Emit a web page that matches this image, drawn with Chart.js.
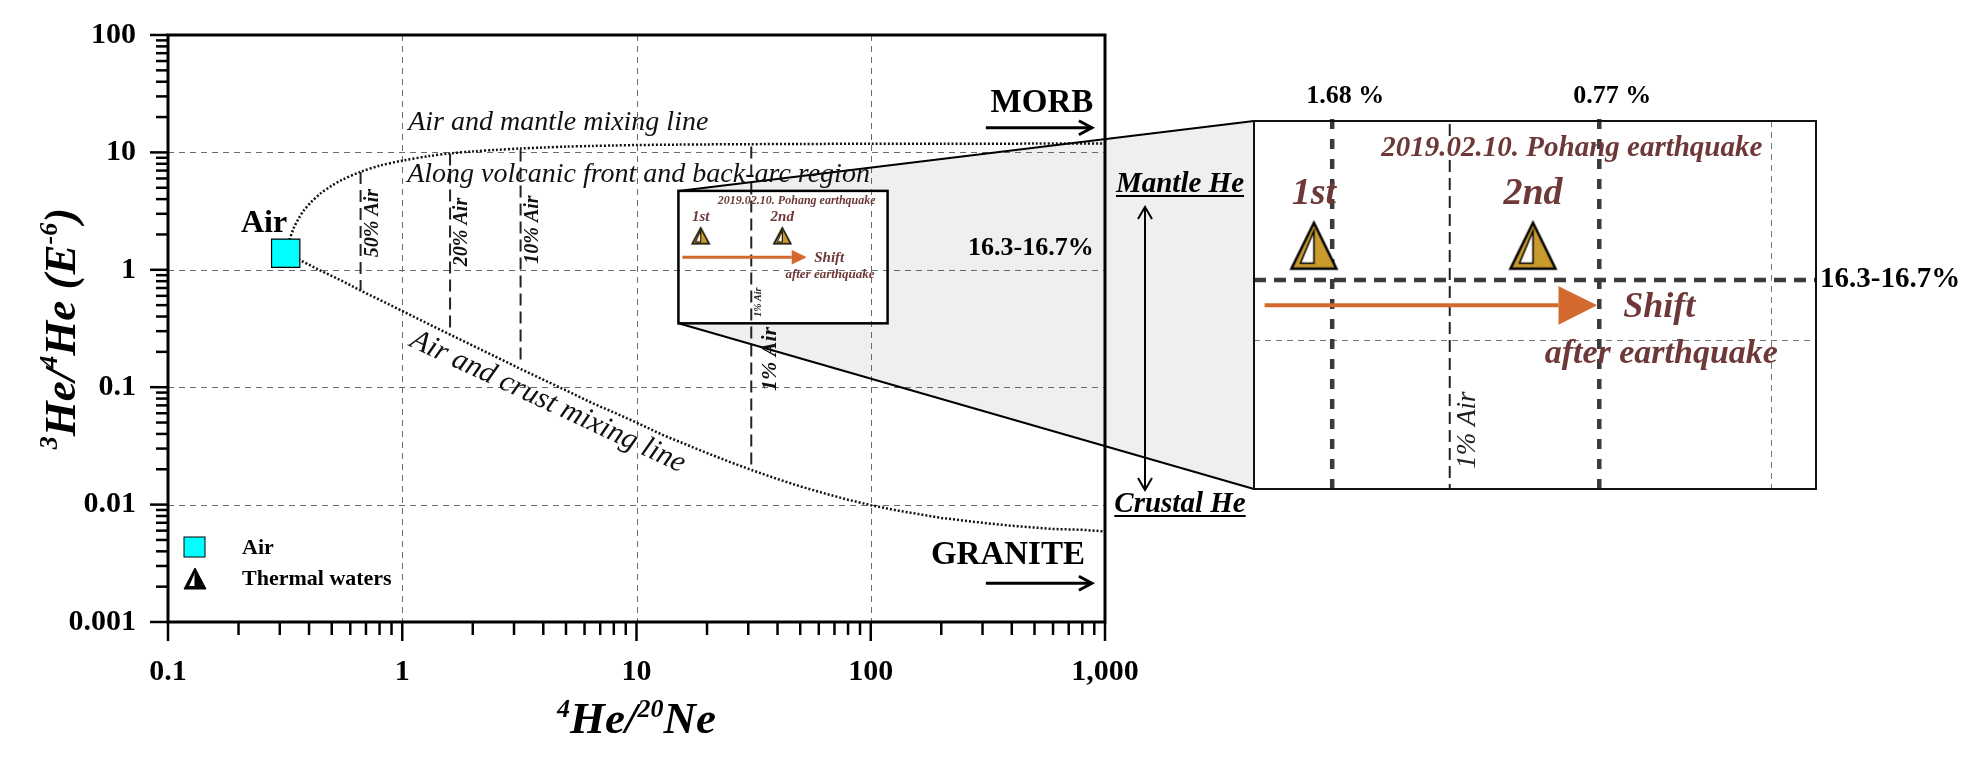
<!DOCTYPE html>
<html>
<head>
<meta charset="utf-8">
<title>3He/4He vs 4He/20Ne</title>
<script src="https://cdn.jsdelivr.net/npm/chart.js@4.4.1/dist/chart.umd.min.js"></script>
<style>
  html, body { margin: 0; padding: 0; background: #fff; }
  #wrap { position: relative; width: 1978px; height: 760px; }
  #wrap canvas { position: absolute; left: 0; top: 0; }
</style>
</head>
<body>
<div id="wrap">
  <canvas id="mainChart" width="1978" height="760"></canvas>
  <canvas id="zoomChart" width="1978" height="760"></canvas>
</div>
<script>
// ============================================================
// 3He/4He vs 4He/20Ne mixing diagram + zoomed panel
// ============================================================

// --- data -----------------------------------------------------
const X_TICK_VALUES = [0.1, 1, 10, 100, 1000];
const X_TICK_LABELS = ['0.1', '1', '10', '100', '1,000'];
const Y_TICK_VALUES = [0.001, 0.01, 0.1, 1, 10, 100];
const Y_TICK_LABELS = ['0.001', '0.01', '0.1', '1', '10', '100'];

// air - mantle mixing curve
const MANTLE_X = [0.33, 0.345, 0.36, 0.38, 0.41, 0.45, 0.5, 0.55, 0.66, 0.8, 1, 1.3, 1.6, 2, 2.5, 3.2, 4, 5, 6.5, 8, 10, 15, 20, 30, 50, 100, 200, 500, 1000];
const MANTLE_Y = [1.8, 2.3, 2.7, 3.2, 3.8, 4.5, 5.2, 5.8, 6.8, 7.7, 8.5, 9.3, 9.8, 10.2, 10.5, 10.8, 11.0, 11.2, 11.35, 11.45, 11.55, 11.65, 11.7, 11.75, 11.8, 11.85, 11.87, 11.88, 11.9];

// air - crust mixing curve
const CRUST_X = [0.36, 0.45, 0.55, 0.66, 0.8, 1, 1.3, 1.6, 2, 2.5, 3.2, 4, 5, 6.5, 8, 10, 13, 16, 20, 25, 31, 40, 50, 65, 80, 100, 130, 160, 200, 300, 400, 600, 800, 1000];
const CRUST_Y = [1.23, 0.98, 0.81, 0.67, 0.556, 0.446, 0.344, 0.281, 0.226, 0.182, 0.143, 0.116, 0.094, 0.073, 0.061, 0.050, 0.039, 0.033, 0.0275, 0.0231, 0.0197, 0.0165, 0.0143, 0.0123, 0.0110, 0.0099, 0.0089, 0.0083, 0.0077, 0.0070, 0.0066, 0.0062, 0.0061, 0.0059];

// % air lines between the two curves
const AIR_PCT_LABELS = ['50% Air', '20% Air', '10% Air', '1% Air'];
const AIR_PCT_X = [0.664, 1.6, 3.2, 30.9];
const AIR_PCT_TOP = [6.8, 9.8, 10.6, 11.2];
const AIR_PCT_BOTTOM = [0.67, 0.29, 0.163, 0.0197];

const AIR_X = [0.318];
const AIR_Y = [1.384];

// thermal waters (Pohang earthquake)
const THERMAL_LABELS = ['1st', '2nd'];
const THERMAL_X = [18.8, 41.9];
const THERMAL_Y = [1.95, 1.95];

// shift arrow
const SHIFT_X = [15.7, 46];
const SHIFT_Y = [1.28, 1.28];
const ARROW_HEAD_X = [46, 52.8, 46];
const ARROW_HEAD_Y = [1.46, 1.28, 1.12];

// air fraction lines in the zoom panel
const AIR_FRACTION_LABELS = ['1.68 %', '0.77 %'];
const AIR_FRACTION_X = [20.1, 53.4];
const BAND_LABEL = '16.3-16.7%';
const BAND_Y = 1.53;

// zoom window (data range of the inset / panel)
const ZOOM_X = [15.1, 118];
const ZOOM_Y = [0.35, 4.7];

// --- layout / style ------------------------------------------
const PANEL = { left: 1254, top: 121, right: 1816, bottom: 489 };
const FAMILY = '"Liberation Serif", "Times New Roman", serif';
const ORANGE = '#d4692f';
const MAROON = '#6e3838';
const GOLD = '#c99a2c';

const font = (style, size) => `${style} ${size}px ${FAMILY}`;
const toPts = (xs, ys) => xs.map((x, i) => ({ x, y: ys[i] }));

// golden/black triangle with white inner wedge
function triangleMarker(w, h, fill, lw) {
  const pad = Math.ceil(lw);
  const c = document.createElement('canvas');
  c.width = w + pad * 2;
  c.height = h + pad * 2;
  const g = c.getContext('2d');
  const x0 = pad, y0 = pad, cx = pad + w / 2;
  g.beginPath();
  g.moveTo(cx, y0); g.lineTo(x0 + w, y0 + h); g.lineTo(x0, y0 + h); g.closePath();
  g.fillStyle = fill; g.fill();
  g.lineWidth = lw; g.strokeStyle = '#000'; g.stroke();
  g.beginPath();
  g.moveTo(cx, y0 + h * 0.18); g.lineTo(cx, y0 + h * 0.88); g.lineTo(x0 + w * 0.2, y0 + h * 0.88); g.closePath();
  g.fillStyle = '#fff'; g.fill();
  g.lineWidth = Math.max(1, lw * 0.6); g.stroke();
  return c;
}

const triSmall = triangleMarker(17, 16, GOLD, 1.5);
const triBig = triangleMarker(45, 46, GOLD, 2.5);
const triLegend = triangleMarker(22, 21, '#000', 1);

// --- drawing helpers -----------------------------------------
function label(ctx, str, x, y, opt) {
  ctx.save();
  ctx.font = opt.font;
  ctx.fillStyle = opt.color || '#000';
  ctx.textAlign = opt.align || 'center';
  ctx.textBaseline = opt.baseline || 'middle';
  ctx.translate(x, y);
  if (opt.rotate) ctx.rotate(opt.rotate);
  ctx.fillText(str, 0, 0);
  if (opt.underline) {
    const w = ctx.measureText(str).width;
    ctx.fillRect(-w / 2, opt.underline, w, 2);
  }
  ctx.restore();
}

function drawRich(ctx, parts, x, y, rot) {
  ctx.save();
  ctx.translate(x, y);
  if (rot) ctx.rotate(rot);
  ctx.textAlign = 'left';
  ctx.textBaseline = 'alphabetic';
  ctx.fillStyle = '#000';
  let total = 0;
  parts.forEach(p => { ctx.font = p.font; p.w = ctx.measureText(p.text).width; total += p.w; });
  let cx = -total / 2;
  parts.forEach(p => { ctx.font = p.font; ctx.fillText(p.text, cx, -(p.rise || 0)); cx += p.w; });
  ctx.restore();
}

function seg(ctx, x0, y0, x1, y1) {
  ctx.beginPath(); ctx.moveTo(x0, y0); ctx.lineTo(x1, y1); ctx.stroke();
}

function chevron(ctx, tx, ty, dx, dy, len, half) {
  // open arrow head at (tx,ty) pointing along (dx,dy)
  const px = -dy, py = dx;
  ctx.beginPath();
  ctx.moveTo(tx - dx * len + px * half, ty - dy * len + py * half);
  ctx.lineTo(tx, ty);
  ctx.lineTo(tx - dx * len - px * half, ty - dy * len - py * half);
  ctx.stroke();
}

function dashedGrid(ctx, a, xs, ys, color, dash) {
  ctx.save();
  ctx.strokeStyle = color;
  ctx.lineWidth = 1;
  ctx.setLineDash(dash);
  X_TICK_VALUES.forEach(v => {
    const p = Math.round(xs.getPixelForValue(v)) + 0.5;
    if (p > a.left + 2 && p < a.right - 2) seg(ctx, p, a.top, p, a.bottom);
  });
  Y_TICK_VALUES.forEach(v => {
    const p = Math.round(ys.getPixelForValue(v)) + 0.5;
    if (p > a.top + 2 && p < a.bottom - 2) seg(ctx, a.left, p, a.right, p);
  });
  ctx.restore();
}

function minorValues(min, max) {
  const out = [];
  for (let e = Math.floor(Math.log10(min)); e <= Math.ceil(Math.log10(max)); e++) {
    for (let m = 1; m <= 9; m++) {
      const v = m * Math.pow(10, e);
      if (v >= min * 0.999 && v <= max * 1.001) out.push({ v, major: m === 1 });
    }
  }
  return out;
}

// --- datasets ------------------------------------------------
function buildDatasets(zoomed) {
  const ds = [];
  ds.push({
    label: 'Air and mantle mixing line', data: toPts(MANTLE_X, MANTLE_Y),
    showLine: true, borderColor: '#111', borderWidth: 2.5, borderDash: [2, 2],
    pointRadius: 0, tension: 0.3, order: 6
  });
  ds.push({
    label: 'Air and crust mixing line', data: toPts(CRUST_X, CRUST_Y),
    showLine: true, borderColor: '#111', borderWidth: 2.5, borderDash: [2, 2],
    pointRadius: 0, order: 6
  });
  AIR_PCT_X.forEach((x, i) => {
    ds.push({
      label: AIR_PCT_LABELS[i], data: [{ x, y: AIR_PCT_TOP[i] }, { x, y: AIR_PCT_BOTTOM[i] }],
      showLine: true, borderColor: '#222', borderWidth: 2, borderDash: [12, 6],
      pointRadius: 0, order: 5
    });
  });
  if (zoomed) {
    AIR_FRACTION_X.forEach((x, i) => {
      ds.push({
        label: AIR_FRACTION_LABELS[i], data: [{ x, y: ZOOM_Y[0] }, { x, y: 5.05 }],
        showLine: true, borderColor: '#3a3a3a', borderWidth: 4.5, borderDash: [10, 10],
        pointRadius: 0, clip: false, order: 4
      });
    });
    ds.push({
      label: BAND_LABEL, data: [{ x: ZOOM_X[0], y: BAND_Y }, { x: ZOOM_X[1], y: BAND_Y }],
      showLine: true, borderColor: '#3a3a3a', borderWidth: 4.5, borderDash: [12, 8],
      pointRadius: 0, order: 4
    });
  } else {
    ds.push({
      label: 'Air', data: toPts(AIR_X, AIR_Y), showLine: false,
      pointStyle: 'rect', pointRadius: 20, backgroundColor: '#00ffff',
      borderColor: '#000', borderWidth: 1.2, order: 0
    });
  }
  ds.push({
    label: 'Shift', data: toPts(SHIFT_X, SHIFT_Y), showLine: true,
    borderColor: ORANGE, borderWidth: zoomed ? 4 : 3, pointRadius: 0, order: 2
  });
  ds.push({
    label: 'Shift head', data: toPts(ARROW_HEAD_X, ARROW_HEAD_Y), showLine: true,
    fill: 'shape', backgroundColor: ORANGE, borderColor: ORANGE, borderWidth: 1,
    pointRadius: 0, order: 2
  });
  ds.push({
    label: 'Thermal waters', data: toPts(THERMAL_X, THERMAL_Y), showLine: false,
    pointStyle: zoomed ? triBig : triSmall, pointRadius: zoomed ? 23 : 9, order: 1
  });
  return ds;
}

// labels that live inside the zoom window (inset + panel), font sizes [inset, panel]
const ZOOM_NOTES = [
  { text: '2019.02.10. Pohang earthquake', x: 48.3, y: 3.87, size: [12, 29] },
  { text: 'Shift', x: 66.5, y: 1.26, size: [15, 36] },
  { text: 'after earthquake', x: 67, y: 0.905, size: [13, 34] }
];
const THERMAL_LABEL_Y = 2.8;
const AIR_PCT_LABEL_Y = [2.5, 2.1, 2.2, 0.174];

function drawZoomNotes(ctx, x, y, k) {
  ZOOM_NOTES.forEach(n => {
    label(ctx, n.text, x.getPixelForValue(n.x), y.getPixelForValue(n.y),
      { font: font('bold italic', n.size[k]), color: MAROON });
  });
  THERMAL_LABELS.forEach((t, i) => {
    label(ctx, t, x.getPixelForValue(THERMAL_X[i]), y.getPixelForValue(THERMAL_LABEL_Y),
      { font: font('bold italic', k ? 38 : 15), color: MAROON });
  });
  label(ctx, AIR_PCT_LABELS[3], x.getPixelForValue(33), y.getPixelForValue(0.53),
    { font: font(k ? 'italic' : 'bold italic', k ? 27 : 10), color: '#222', rotate: -Math.PI / 2 });
}

// --- main chart decorations ----------------------------------
const mainDecor = {
  id: 'mainDecor',
  beforeDatasetsDraw(chart) {
    const { ctx, chartArea: a, scales: { x, y } } = chart;
    const L = x.getPixelForValue(ZOOM_X[0]), R = x.getPixelForValue(ZOOM_X[1]);
    const T = y.getPixelForValue(ZOOM_Y[1]), B = y.getPixelForValue(ZOOM_Y[0]);
    ctx.save();
    ctx.fillStyle = '#efefef';
    ctx.beginPath();
    ctx.moveTo(L, T); ctx.lineTo(PANEL.left, PANEL.top);
    ctx.lineTo(PANEL.left, PANEL.bottom); ctx.lineTo(L, B);
    ctx.closePath(); ctx.fill();
    ctx.fillStyle = '#fff';
    ctx.fillRect(L, T, R - L, B - T);
    ctx.restore();
    dashedGrid(ctx, a, x, y, '#6a6a6a', [6, 5]);
  },
  afterDatasetsDraw(chart) {
    const { ctx, chartArea: a, scales: { x, y } } = chart;
    const L = x.getPixelForValue(ZOOM_X[0]), R = x.getPixelForValue(ZOOM_X[1]);
    const T = y.getPixelForValue(ZOOM_Y[1]), B = y.getPixelForValue(ZOOM_Y[0]);
    ctx.save();
    ctx.strokeStyle = '#000';

    // inset frame + connector
    ctx.lineWidth = 2.5;
    ctx.strokeRect(L, T, R - L, B - T);
    ctx.lineWidth = 2;
    seg(ctx, L, T, PANEL.left, PANEL.top);
    seg(ctx, L, B, PANEL.left, PANEL.bottom);

    // frame + ticks
    ctx.lineWidth = 3;
    ctx.strokeRect(a.left, a.top, a.right - a.left, a.bottom - a.top);
    ctx.lineWidth = 2.5;
    minorValues(0.1, 1000).forEach(t => {
      const p = x.getPixelForValue(t.v);
      seg(ctx, p, a.bottom, p, a.bottom + (t.major ? 19 : 13));
    });
    minorValues(0.001, 100).forEach(t => {
      const p = y.getPixelForValue(t.v);
      seg(ctx, a.left, p, a.left - (t.major ? 18 : 12), p);
    });

    // curve annotations
    label(ctx, 'Air and mantle mixing line', x.getPixelForValue(1.06), y.getPixelForValue(15.6),
      { font: font('italic', 28), align: 'left', baseline: 'alphabetic', color: '#111' });
    label(ctx, 'Along volcanic front and back-arc region', x.getPixelForValue(1.05), y.getPixelForValue(5.6),
      { font: font('italic', 28), align: 'left', baseline: 'alphabetic', color: '#111' });
    label(ctx, 'Air and crust mixing line', x.getPixelForValue(4.18), y.getPixelForValue(0.0748),
      { font: font('italic', 30), rotate: 25 * Math.PI / 180, color: '#111' });
    label(ctx, 'Air', x.getPixelForValue(0.257), y.getPixelForValue(2.1),
      { font: font('bold', 32), baseline: 'alphabetic' });

    AIR_PCT_LABELS.forEach((t, i) => {
      const px = x.getPixelForValue(AIR_PCT_X[i]) + (i === 3 ? 19 : 12);
      label(ctx, t, px, y.getPixelForValue(AIR_PCT_LABEL_Y[i]),
        { font: font('bold italic', i === 3 ? 22 : 20), rotate: -Math.PI / 2, color: '#111' });
    });

    // end members
    label(ctx, 'MORB', x.getPixelForValue(538), y.getPixelForValue(25.9), { font: font('bold', 33) });
    label(ctx, 'GRANITE', x.getPixelForValue(385), y.getPixelForValue(0.0037), { font: font('bold', 33) });
    ctx.lineWidth = 3;
    [16.2, 0.00214].forEach(v => {
      const py = y.getPixelForValue(v);
      const x0 = x.getPixelForValue(310), x1 = x.getPixelForValue(879);
      seg(ctx, x0, py, x1, py);
      chevron(ctx, x1, py, 1, 0, 13, 7);
    });
    label(ctx, BAND_LABEL, x.getPixelForValue(895), y.getPixelForValue(BAND_Y),
      { font: font('bold', 26), align: 'right' });

    // inset notes
    drawZoomNotes(ctx, x, y, 0);

    // legend
    ctx.fillStyle = '#00ffff';
    ctx.fillRect(a.left + 16, a.bottom - 85, 21, 20);
    ctx.lineWidth = 1;
    ctx.strokeRect(a.left + 16, a.bottom - 85, 21, 20);
    ctx.drawImage(triLegend, a.left + 15, a.bottom - 55);
    label(ctx, 'Air', a.left + 74, a.bottom - 74, { font: font('bold', 22), align: 'left' });
    label(ctx, 'Thermal waters', a.left + 74, a.bottom - 43, { font: font('bold', 22), align: 'left' });

    // mantle / crustal He scale
    const ax = 1145;
    ctx.lineWidth = 2;
    seg(ctx, ax, 208, ax, 489);
    chevron(ctx, ax, 207, 0, -1, 12, 7);
    chevron(ctx, ax, 490, 0, 1, 12, 7);
    label(ctx, 'Mantle He', 1180, 192, { font: font('bold italic', 29), baseline: 'alphabetic', underline: 3 });
    label(ctx, 'Crustal He', 1180, 512, { font: font('bold italic', 29), baseline: 'alphabetic', underline: 3 });

    // axis titles
    const main = font('bold italic', 45), sup = font('bold italic', 26);
    drawRich(ctx, [
      { text: '3', font: sup, rise: 18 }, { text: 'He/', font: main },
      { text: '4', font: sup, rise: 18 }, { text: 'He (E', font: main },
      { text: '-6', font: sup, rise: 18 }, { text: ')', font: main }
    ], 75, (a.top + a.bottom) / 2, -Math.PI / 2);
    drawRich(ctx, [
      { text: '4', font: sup, rise: 16 }, { text: 'He/', font: main },
      { text: '20', font: sup, rise: 16 }, { text: 'Ne', font: main }
    ], (a.left + a.right) / 2, 733, 0);
    ctx.restore();
  }
};

// --- zoom panel decorations ----------------------------------
const zoomDecor = {
  id: 'zoomDecor',
  beforeDatasetsDraw(chart) {
    const { ctx, chartArea: a, scales: { x, y } } = chart;
    ctx.save();
    ctx.fillStyle = '#fff';
    ctx.fillRect(a.left, a.top, a.right - a.left, a.bottom - a.top);
    ctx.restore();
    dashedGrid(ctx, a, x, y, '#777', [6, 5]);
  },
  afterDatasetsDraw(chart) {
    const { ctx, chartArea: a, scales: { x, y } } = chart;
    ctx.save();
    ctx.strokeStyle = '#111';
    ctx.lineWidth = 2;
    ctx.strokeRect(a.left, a.top, a.right - a.left, a.bottom - a.top);
    drawZoomNotes(ctx, x, y, 1);
    AIR_FRACTION_LABELS.forEach((t, i) => {
      label(ctx, t, x.getPixelForValue(AIR_FRACTION_X[i]) + 13, a.top - 25, { font: font('bold', 26) });
    });
    label(ctx, BAND_LABEL, a.right + 4, y.getPixelForValue(BAND_Y), { font: font('bold', 29), align: 'left' });
    ctx.restore();
  }
};

// --- charts --------------------------------------------------
const common = {
  responsive: false,
  animation: false,
  devicePixelRatio: 1,
  events: [],
  plugins: { legend: { display: false }, tooltip: { enabled: false } }
};

const tickFont = { family: FAMILY, size: 30, weight: 'bold' };

new Chart(document.getElementById('mainChart'), {
  type: 'scatter',
  data: { datasets: buildDatasets(false) },
  options: {
    ...common,
    layout: { padding: { left: 0, top: 35, right: 873, bottom: 0 } },
    scales: {
      x: {
        type: 'logarithmic', min: 0.1, max: 1000,
        afterBuildTicks: s => { s.ticks = X_TICK_VALUES.map(v => ({ value: v })); },
        afterFit: s => { s.height = 138; s.paddingLeft = 0; s.paddingRight = 0; },
        grid: { display: false, drawTicks: false },
        border: { display: false },
        ticks: { callback: (v, i) => X_TICK_LABELS[i], font: tickFont, color: '#000', padding: 32, maxRotation: 0, autoSkip: false }
      },
      y: {
        type: 'logarithmic', min: 0.001, max: 100,
        afterBuildTicks: s => { s.ticks = Y_TICK_VALUES.map(v => ({ value: v })); },
        afterFit: s => { s.width = 168; s.paddingTop = 0; s.paddingBottom = 0; },
        grid: { display: false, drawTicks: false },
        border: { display: false },
        ticks: { callback: (v, i) => Y_TICK_LABELS[i], font: tickFont, color: '#000', padding: 32, autoSkip: false }
      }
    }
  },
  plugins: [mainDecor]
});

new Chart(document.getElementById('zoomChart'), {
  type: 'scatter',
  data: { datasets: buildDatasets(true) },
  options: {
    ...common,
    layout: { padding: { left: PANEL.left, top: PANEL.top, right: 1978 - PANEL.right, bottom: 760 - PANEL.bottom } },
    scales: {
      x: { type: 'logarithmic', display: false, min: ZOOM_X[0], max: ZOOM_X[1] },
      y: { type: 'logarithmic', display: false, min: ZOOM_Y[0], max: ZOOM_Y[1] }
    }
  },
  plugins: [zoomDecor]
});
</script>
</body>
</html>
